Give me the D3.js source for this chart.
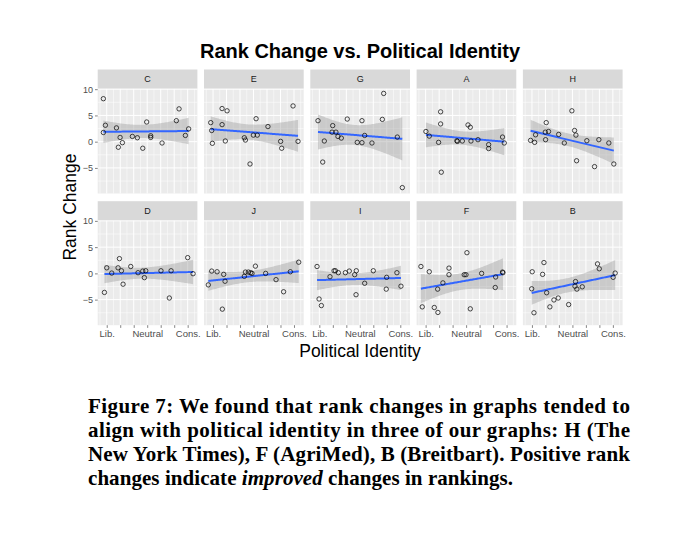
<!DOCTYPE html>
<html><head><meta charset="utf-8">
<script src="https://cdn.jsdelivr.net/npm/d3@7"></script>
<style>body{margin:0;background:#fff}</style>
</head><body><svg id="c" width="680" height="536"></svg>
<script>
// ---- data ----
const panels = ["C","E","G","A","H","D","J","I","F","B"];
const xTickValues = [-3,-2,-1,0,1,2,3];
const xTickLabels = ["Lib.","","","Neutral","","","Cons."];
const yTickValues = [-5,0,5,10];
const C_x=[-3.25,-3.10,-3.25,-2.28,-2.01,-2.14,-1.84,-1.10,-0.73,-0.33,-0.04,0.26,0.26,1.10,2.16,2.36,2.83,3.07];
const C_y=[8.19,3.13,1.75,2.63,0.81,-1.06,-0.19,1.0,0.75,-1.25,3.75,1.13,0.81,-0.25,4.0,6.25,1.19,2.44];
const E_x=[-3.17,-3.10,-3.05,-2.33,-1.96,-2.33,-2.09,-0.68,-0.60,-0.01,0.28,0.19,-0.26,1.07,2.01,2.09,2.93,3.30];
const E_y=[3.63,2.13,-0.31,6.31,5.88,3.25,0.13,0.75,0.31,1.25,1.25,4.38,-4.25,2.88,0.06,-1.25,6.81,0.06];
const G_x=[-3.10,-2.63,-2.75,-2.01,-2.06,-1.77,-1.62,-1.37,-0.93,-0.19,0.16,0.16,0.36,0.90,1.77,1.67,2.78,3.15];
const G_y=[4.0,0.13,-3.88,3.06,1.81,1.81,1.0,0.69,4.31,-0.13,-0.19,4.0,1.19,-0.25,9.19,4.25,0.88,-8.75];
const A_x=[-2.98,-2.73,-1.89,-1.89,-2.04,-1.84,-0.68,-0.65,-0.28,0.14,0.31,0.36,0.88,1.67,1.67,2.70,2.83];
const A_y=[1.94,1.06,5.69,3.38,-0.13,-5.81,0.19,0.06,0.13,3.19,2.75,0.13,0.38,-0.56,-1.31,0.88,-0.25];
const H_x=[-3.10,-2.80,-2.73,-1.94,-2.01,-1.77,-1.99,-1.02,-0.60,-0.04,0.16,0.26,0.31,1.07,1.96,1.64,2.70,3.07];
const H_y=[0.25,-0.13,1.31,3.63,1.81,1.94,0.38,1.38,-0.25,5.88,2.13,1.25,-3.63,0.19,0.38,-4.75,-0.25,-4.25];
const D_x=[-3.17,-3.0,-2.63,-2.06,-2.16,-1.91,-1.79,-1.22,-0.68,-0.33,-0.11,-0.21,1.02,1.77,1.64,3.0,3.40];
const D_y=[-3.63,1.06,0.06,2.81,1.06,0.5,-2.06,1.31,0.13,0.44,0.5,-0.81,0.5,0.5,-4.69,3.0,-0.06];
const J_x=[-3.35,-3.10,-2.70,-2.21,-2.11,-2.31,-0.68,-0.60,-0.38,-0.21,-0.11,0.14,0.90,1.67,2.23,2.73,3.35];
const J_y=[-2.19,0.44,0.31,-0.19,-1.5,-6.81,-0.56,0.25,0.25,0.13,0.0,1.38,0.0,-1.19,-3.5,0.31,2.13];
const I_x=[-3.17,-3.02,-2.85,-2.21,-1.91,-1.81,-1.59,-1.07,-0.78,-0.38,-0.26,-0.28,0.36,1.0,1.99,1.96,2.75,3.05];
const I_y=[1.31,-4.88,-6.13,-0.63,0.5,0.5,0.13,0.13,0.44,-0.25,0.5,-4.06,-1.88,0.5,-0.75,-3.0,0.13,-2.44];
const F_x=[-3.35,-3.25,-2.73,-2.36,-2.09,-2.11,-1.72,-1.27,-1.27,-0.14,-0.01,0.06,0.31,1.15,2.19,2.16,2.70,2.73];
const F_y=[1.31,-6.38,0.31,-6.5,-7.44,-3.0,-1.81,1.0,-0.25,-0.25,-0.25,3.94,-6.75,0.0,-0.69,-2.69,0.25,0.13];
const B_x=[-3.02,-2.98,-2.85,-2.11,-2.21,-1.91,-1.67,-1.37,-1.05,-0.28,0.23,0.19,0.33,0.73,1.86,1.99,3.02,3.17];
const B_y=[-2.94,0.31,-7.5,2.06,-0.19,-3.69,-6.38,-5.06,-4.69,-5.94,-1.56,-2.44,-3.0,-2.56,1.81,0.88,-0.75,0.06];
const seriesX = {C:C_x,E:E_x,G:G_x,A:A_x,H:H_x,D:D_x,J:J_x,I:I_x,F:F_x,B:B_x};
const seriesY = {C:C_y,E:E_y,G:G_y,A:A_y,H:H_y,D:D_y,J:J_y,I:I_y,F:F_y,B:B_y};

// ---- layout ----
const svg = d3.select("#c");
const left0 = 97.7, pw = 99.7, pstep = 106.3, ph = 105, stripH = 19;
const rowTops = [88.5, 220.2];
const x = d3.scaleLinear().domain([-3.67,3.72]).range([0,pw]);
const y = d3.scaleLinear().domain([-9.87,10.13]).range([ph,0]);
const xMinor = [-3.5,-2.5,-1.5,-0.5,0.5,1.5,2.5,3.5];
const yMinor = [-7.5,-2.5,2.5,7.5];
const font = "'Liberation Sans', Arial, sans-serif";

function tq(df){const z=1.959964;return z+(z*z*z+z)/(4*df)+(5*Math.pow(z,5)+16*z*z*z+3*z)/(96*df*df)+(3*Math.pow(z,7)+19*Math.pow(z,5)+17*z*z*z-15*z)/(384*df*df*df);}

panels.forEach((name,i)=>{
  const r = Math.floor(i/5), c = i%5;
  const gx = left0 + c*pstep, gy = rowTops[r];
  const g = svg.append("g").attr("transform",`translate(${gx},${gy})`);
  svg.append("rect").attr("x",gx).attr("y",gy-stripH).attr("width",pw).attr("height",stripH).attr("fill","#D9D9D9");
  svg.append("text").attr("x",gx+pw/2).attr("y",gy-stripH/2+3.2).attr("text-anchor","middle")
    .attr("font-family",font).attr("font-size",9).attr("fill","#1A1A1A").text(name);
  g.append("rect").attr("width",pw).attr("height",ph).attr("fill","#EBEBEB");
  g.selectAll(".mnx").data(xMinor).join("line").attr("x1",d=>x(d)).attr("x2",d=>x(d)).attr("y1",0).attr("y2",ph).attr("stroke","#fff").attr("stroke-width",0.5);
  g.selectAll(".mny").data(yMinor).join("line").attr("y1",d=>y(d)).attr("y2",d=>y(d)).attr("x1",0).attr("x2",pw).attr("stroke","#fff").attr("stroke-width",0.5);
  g.selectAll(".mjx").data(xTickValues).join("line").attr("x1",d=>x(d)).attr("x2",d=>x(d)).attr("y1",0).attr("y2",ph).attr("stroke","#fff").attr("stroke-width",1);
  g.selectAll(".mjy").data(yTickValues).join("line").attr("y1",d=>y(d)).attr("y2",d=>y(d)).attr("x1",0).attr("x2",pw).attr("stroke","#fff").attr("stroke-width",1);

  const xs = seriesX[name], ys = seriesY[name], n = xs.length;
  const mx = d3.mean(xs), my = d3.mean(ys);
  let sxx=0,sxy=0; for(let k=0;k<n;k++){sxx+=(xs[k]-mx)**2;sxy+=(xs[k]-mx)*(ys[k]-my);}
  const b = sxy/sxx, a = my-b*mx;
  let sse=0; for(let k=0;k<n;k++){sse+=(ys[k]-a-b*xs[k])**2;}
  const s = Math.sqrt(sse/(n-2)), t = tq(n-2);
  const [x0,x1] = d3.extent(xs);
  const grid = d3.range(80).map(k=>x0+(x1-x0)*k/79);
  const fit = grid.map(v=>{const f=a+b*v, se=s*Math.sqrt(1/n+(v-mx)**2/sxx);return {v,f,lo:f-t*se,hi:f+t*se};});
  g.append("path").datum(fit).attr("d",d3.area().x(d=>x(d.v)).y0(d=>y(d.lo)).y1(d=>y(d.hi)))
    .attr("fill","#999999").attr("fill-opacity",0.4);
  g.append("path").datum(fit).attr("d",d3.line().x(d=>x(d.v)).y(d=>y(d.f)))
    .attr("fill","none").attr("stroke","#3366FF").attr("stroke-width",2);
  g.selectAll(".pt").data(d3.range(n)).join("circle").attr("cx",k=>x(xs[k])).attr("cy",k=>y(ys[k]))
    .attr("r",2.2).attr("fill","none").attr("stroke","#000").attr("stroke-width",0.7);

  if(c===0){
    const ax = g.append("g").call(d3.axisLeft(y).tickValues(yTickValues).tickSize(2.7).tickPadding(2).tickFormat(d=>d<0?"\u2212"+(-d):d));
    ax.select(".domain").remove();
    ax.selectAll("line").attr("stroke","#333").attr("stroke-width",0.6);
    ax.selectAll("text").attr("font-family",font).attr("font-size",9).attr("fill","#4D4D4D");
  }
  if(r===1){
    const ax = g.append("g").attr("transform",`translate(0,${ph})`)
      .call(d3.axisBottom(x).tickValues(xTickValues).tickSize(2.7).tickPadding(2).tickFormat((d,k)=>xTickLabels[k]));
    ax.select(".domain").remove();
    ax.selectAll("line").attr("stroke","#333").attr("stroke-width",0.6);
    ax.selectAll("text").attr("font-family",font).attr("font-size",9.5).attr("fill","#4D4D4D");
  }
});

svg.append("text").attr("x",360).attr("y",58).attr("text-anchor","middle").attr("font-family",font)
  .attr("font-weight","bold").attr("font-size",20).attr("fill","#000").text("Rank Change vs. Political Identity");
svg.append("text").attr("x",360).attr("y",357).attr("text-anchor","middle").attr("font-family",font)
  .attr("font-size",17.5).attr("fill","#000").text("Political Identity");
svg.append("text").attr("transform","translate(76,207) rotate(-90)").attr("text-anchor","middle").attr("font-family",font)
  .attr("font-size",17.5).attr("fill","#000").text("Rank Change");

// caption
const capFont = "'Liberation Serif', 'DejaVu Serif', serif";
const capLines = ["Figure 7: We found that rank changes in graphs tended to",
  "align with political identity in three of our graphs: H (The",
  "New York Times), F (AgriMed), B (Breitbart). Positive rank"];
capLines.forEach((l,k)=>{
  svg.append("text").attr("x",88).attr("y",413+24*k).attr("font-family",capFont).attr("font-weight","bold")
    .attr("font-size",21).attr("textLength",542).attr("lengthAdjust","spacing").attr("fill","#000").text(l);
});
const last = svg.append("text").attr("x",88).attr("y",413+72).attr("font-family",capFont).attr("font-weight","bold")
  .attr("font-size",21).attr("textLength",425).attr("lengthAdjust","spacing").attr("fill","#000");
last.append("tspan").text("changes indicate ");
last.append("tspan").attr("font-style","italic").text("improved");
last.append("tspan").text(" changes in rankings.");
</script></body></html>
